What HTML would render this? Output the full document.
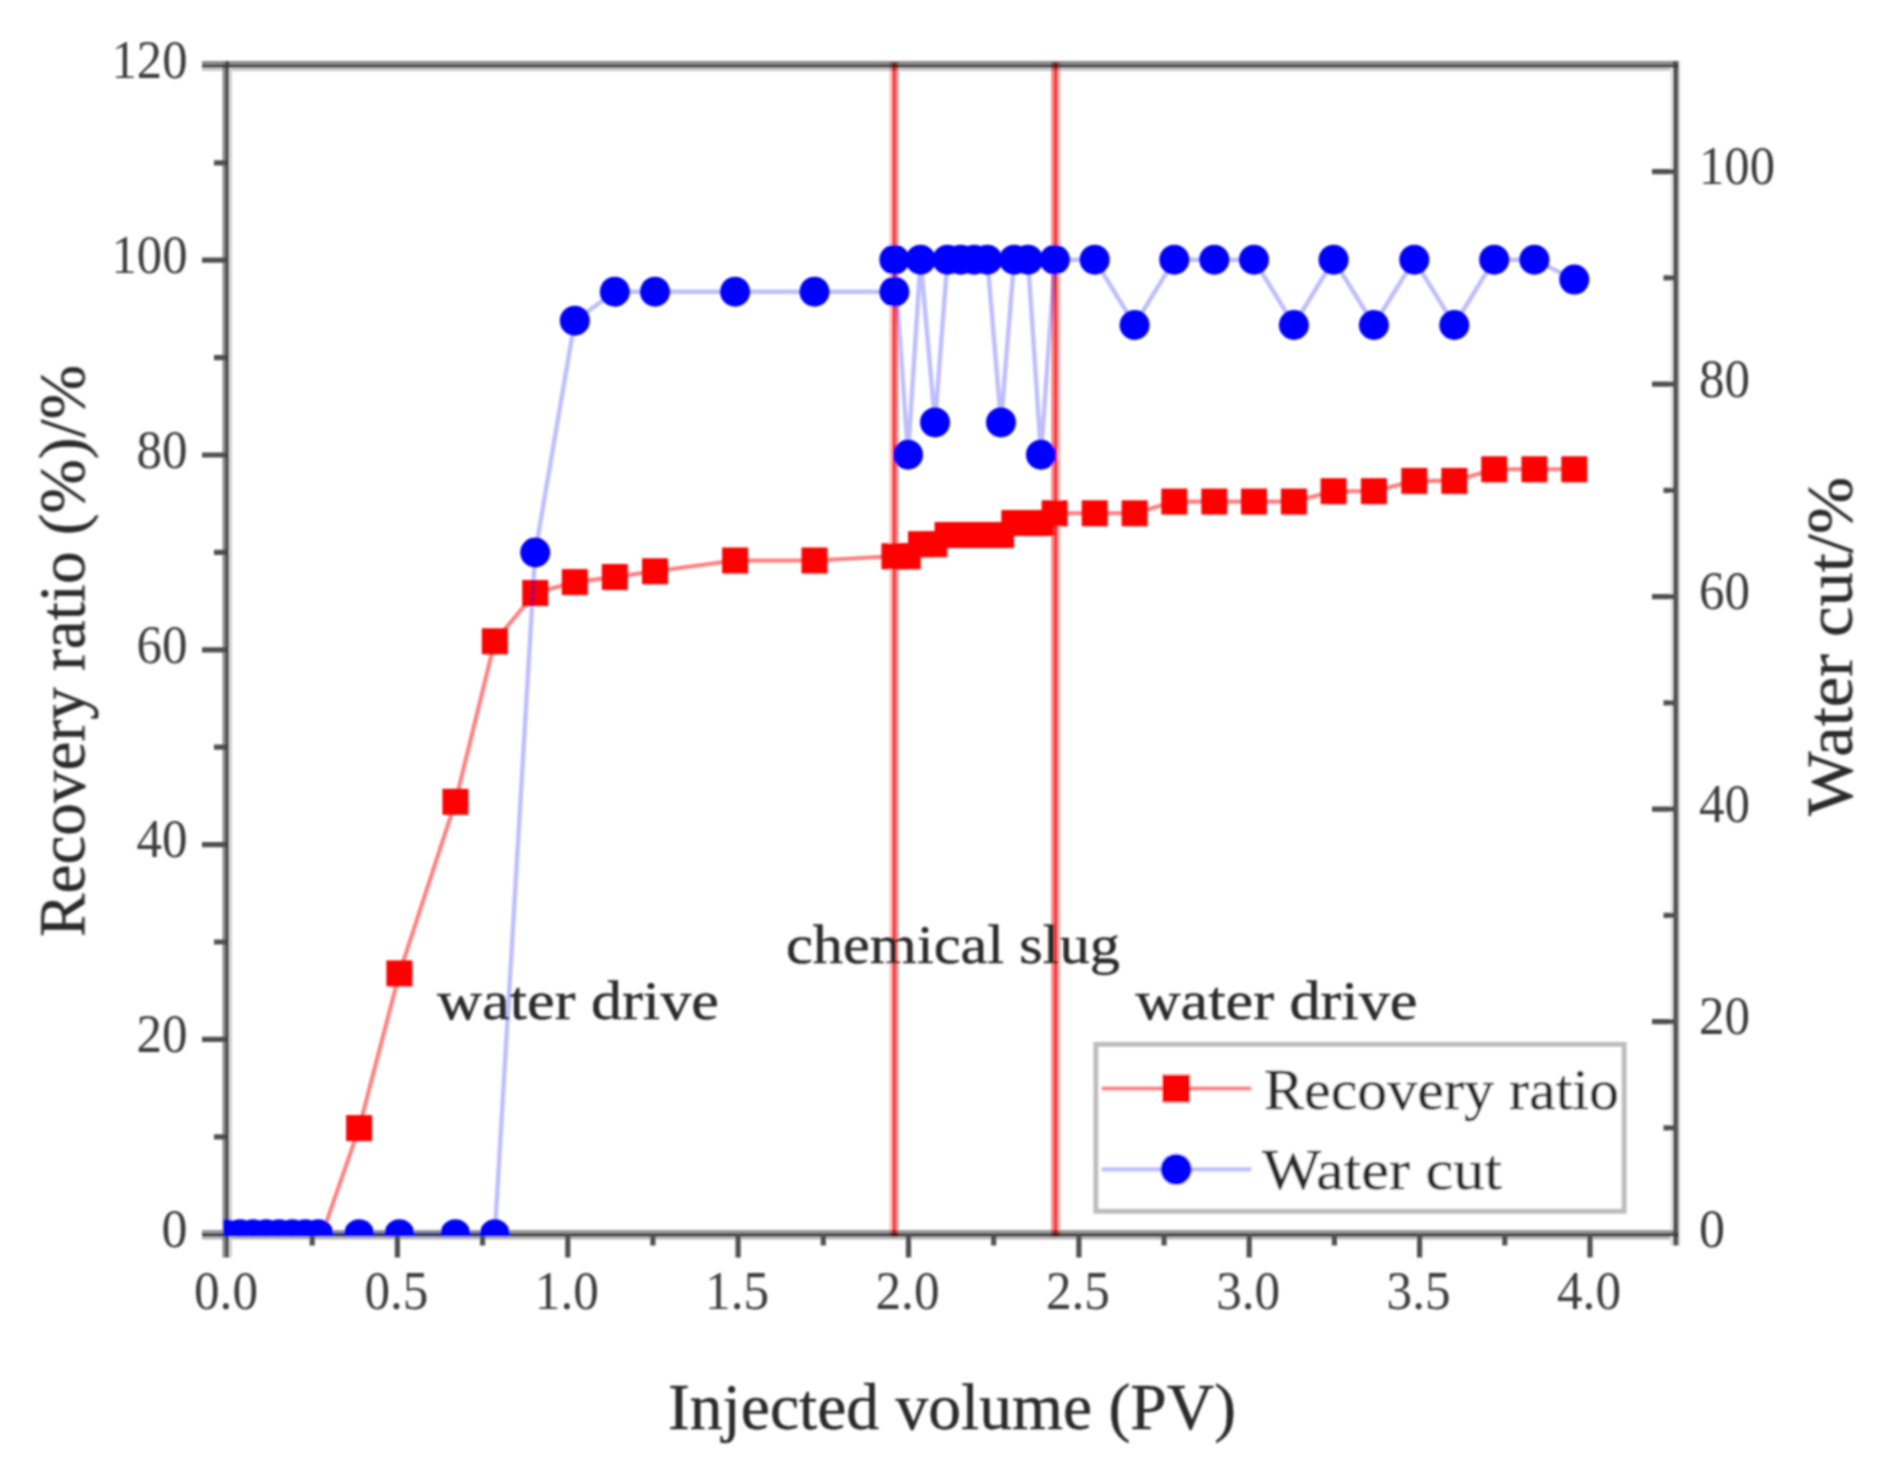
<!DOCTYPE html>
<html lang="en"><head><meta charset="utf-8"><title>Recovery ratio and water cut vs injected volume</title>
<style>html,body{margin:0;padding:0;background:#fff}svg{display:block}text{font-family:"Liberation Serif",serif;fill:#3c3c3c}text.h{fill:#2c2c2c;stroke:#2c2c2c;stroke-width:0.4px}</style>
</head><body>
<svg width="1891" height="1473" viewBox="0 0 1891 1473">
<defs><clipPath id="plot"><rect x="223.3" y="62.5" width="1455.3" height="1173.7"/></clipPath>
<filter id="soft" x="-2%" y="-2%" width="104%" height="104%"><feGaussianBlur stdDeviation="0.9"/></filter></defs>
<rect width="1891" height="1473" fill="#fff"/>
<g filter="url(#soft)">
<rect x="202.0" y="67.6" width="1477.0" height="3.4" fill="#c8c8c8"/>
<rect x="202.0" y="1236.4" width="1477.0" height="3.1" fill="#b4b4b4"/>
<rect x="228.8" y="61.0" width="3.1" height="1196.5" fill="#d0d0d0"/>
<rect x="1670.0" y="61.0" width="3.1" height="1184.5" fill="#e6e6e6"/>
<rect x="1679.0" y="61.0" width="3.0" height="1184.5" fill="#f4f4f4"/>
<rect x="202.0" y="61.0" width="1477.0" height="3.5" fill="#8c8c8c"/>
<rect x="202.0" y="1230.0" width="1477.0" height="3.3" fill="#989898"/>
<rect x="222.6" y="61.0" width="3.1" height="1196.5" fill="#808080"/>
<rect x="1676.0" y="61.0" width="3.0" height="1184.5" fill="#666666"/>
<rect x="202.0" y="64.5" width="1477.0" height="3.1" fill="#3a3a3a"/>
<rect x="202.0" y="1233.3" width="1477.0" height="3.1" fill="#2e2e2e"/>
<rect x="225.7" y="61.0" width="3.1" height="1196.5" fill="#3a3a3a"/>
<rect x="1673.1" y="61.0" width="2.9" height="1184.5" fill="#484848"/>
<rect x="889.4" y="62" width="2.8" height="1175" fill="#ffc0c0" style="mix-blend-mode:multiply"/>
<rect x="892.2" y="62" width="3.0" height="1175" fill="#ff1414" style="mix-blend-mode:multiply"/>
<rect x="895.2" y="62" width="2.9" height="1175" fill="#ff7474" style="mix-blend-mode:multiply"/>
<rect x="1051.4" y="62" width="3.2" height="1175" fill="#ff7474" style="mix-blend-mode:multiply"/>
<rect x="1054.6" y="62" width="3.0" height="1175" fill="#ff1010" style="mix-blend-mode:multiply"/>
<rect x="1057.6" y="62" width="2.9" height="1175" fill="#ffbcbc" style="mix-blend-mode:multiply"/>
<g stroke="#505050" stroke-width="5.2" fill="none" stroke-linecap="butt">
<path d="M202 1039.4 H226.1 M202 844.6 H226.1 M202 649.8 H226.1 M202 455.0 H226.1 M202 260.2 H226.1 M214 1136.8 H226.1 M214 942.0 H226.1 M214 747.2 H226.1 M214 552.4 H226.1 M214 357.6 H226.1 M214 162.8 H226.1 M397.4 1234.3 V1257.5 M567.8 1234.3 V1257.5 M738.1 1234.3 V1257.5 M908.5 1234.3 V1257.5 M1078.9 1234.3 V1257.5 M1249.2 1234.3 V1257.5 M1419.6 1234.3 V1257.5 M1590.0 1234.3 V1257.5 M312.2 1234.3 V1245.5 M482.6 1234.3 V1245.5 M652.9 1234.3 V1245.5 M823.3 1234.3 V1245.5 M993.7 1234.3 V1245.5 M1164.1 1234.3 V1245.5 M1334.4 1234.3 V1245.5 M1504.8 1234.3 V1245.5 M1652 1021.7 H1675.9 M1652 809.2 H1675.9 M1652 596.6 H1675.9 M1652 384.1 H1675.9 M1652 171.6 H1675.9 M1663.5 1127.9 H1675.9 M1663.5 915.4 H1675.9 M1663.5 702.9 H1675.9 M1663.5 490.4 H1675.9 M1663.5 277.9 H1675.9"/>
</g>
<g clip-path="url(#plot)">
<polyline fill="none" stroke="#ff0000" stroke-opacity="0.5" stroke-width="4.1" stroke-linejoin="round" points="227.0,1234.2 240.6,1234.2 254.2,1234.2 267.8,1234.2 281.4,1234.2 295.0,1234.2 308.6,1234.2 322.2,1234.2 359.1,1128.1 399.4,973.4 455.4,801.8 494.8,641.3 535.2,593.0 574.8,582.1 614.8,577.0 655.0,571.3 735.1,560.5 814.5,560.5 894.4,556.3 907.7,556.3 921.0,544.2 934.3,544.2 947.6,535.0 961.0,535.0 974.3,535.0 987.6,535.0 1001.0,535.0 1014.3,523.0 1027.6,523.0 1041.0,523.0 1054.6,513.3 1094.7,513.3 1134.6,513.3 1174.3,501.6 1214.3,501.6 1254.0,501.6 1293.9,501.6 1333.6,491.2 1373.9,491.2 1414.3,480.9 1454.3,480.9 1494.2,469.3 1534.4,469.3 1574.3,469.3"/>
<g fill="#ff0000">
<rect x="346.1" y="1115.1" width="26" height="26"/>
<rect x="386.4" y="960.4" width="26" height="26"/>
<rect x="442.4" y="788.8" width="26" height="26"/>
<rect x="481.8" y="628.3" width="26" height="26"/>
<rect x="522.2" y="580.0" width="26" height="26"/>
<rect x="561.8" y="569.1" width="26" height="26"/>
<rect x="601.8" y="564.0" width="26" height="26"/>
<rect x="642.0" y="558.3" width="26" height="26"/>
<rect x="722.1" y="547.5" width="26" height="26"/>
<rect x="801.5" y="547.5" width="26" height="26"/>
<rect x="881.4" y="543.3" width="26" height="26"/>
<rect x="894.7" y="543.3" width="26" height="26"/>
<rect x="908.0" y="531.2" width="26" height="26"/>
<rect x="921.3" y="531.2" width="26" height="26"/>
<rect x="934.6" y="522.0" width="26" height="26"/>
<rect x="948.0" y="522.0" width="26" height="26"/>
<rect x="961.3" y="522.0" width="26" height="26"/>
<rect x="974.6" y="522.0" width="26" height="26"/>
<rect x="988.0" y="522.0" width="26" height="26"/>
<rect x="1001.3" y="510.0" width="26" height="26"/>
<rect x="1014.6" y="510.0" width="26" height="26"/>
<rect x="1028.0" y="510.0" width="26" height="26"/>
<rect x="1041.6" y="500.3" width="26" height="26"/>
<rect x="1081.7" y="500.3" width="26" height="26"/>
<rect x="1121.6" y="500.3" width="26" height="26"/>
<rect x="1161.3" y="488.6" width="26" height="26"/>
<rect x="1201.3" y="488.6" width="26" height="26"/>
<rect x="1241.0" y="488.6" width="26" height="26"/>
<rect x="1280.9" y="488.6" width="26" height="26"/>
<rect x="1320.6" y="478.2" width="26" height="26"/>
<rect x="1360.9" y="478.2" width="26" height="26"/>
<rect x="1401.3" y="467.9" width="26" height="26"/>
<rect x="1441.3" y="467.9" width="26" height="26"/>
<rect x="1481.2" y="456.3" width="26" height="26"/>
<rect x="1521.4" y="456.3" width="26" height="26"/>
<rect x="1561.3" y="456.3" width="26" height="26"/>
</g>
<polyline fill="none" stroke="#0000ff" stroke-opacity="0.26" stroke-width="4.4" stroke-linejoin="round" points="227.0,1234.2 240.1,1234.2 253.1,1234.2 266.2,1234.2 279.2,1234.2 292.3,1234.2 305.4,1234.2 318.4,1234.2 359.1,1234.2 399.4,1234.2 455.4,1234.2 494.8,1234.2 535.2,552.5 574.8,320.7 614.8,291.7 655.0,291.7 735.1,291.7 814.5,291.7 894.4,291.7 894.4,259.7 908.0,454.7 920.6,259.7 935.0,422.4 947.5,259.7 960.8,259.7 974.1,259.7 987.3,259.7 1001.0,422.4 1014.2,259.7 1028.0,259.7 1041.0,454.7 1054.8,259.7 1094.7,259.7 1134.6,325.0 1174.3,259.7 1214.3,259.7 1254.0,259.7 1293.9,325.0 1333.6,259.7 1373.9,325.0 1414.3,259.7 1454.3,325.0 1494.2,259.7 1534.4,259.7 1574.3,279.6"/>
<g fill="#0000ff">
<circle cx="227.0" cy="1234.2" r="15.0"/>
<circle cx="240.1" cy="1234.2" r="15.0"/>
<circle cx="253.1" cy="1234.2" r="15.0"/>
<circle cx="266.2" cy="1234.2" r="15.0"/>
<circle cx="279.2" cy="1234.2" r="15.0"/>
<circle cx="292.3" cy="1234.2" r="15.0"/>
<circle cx="305.4" cy="1234.2" r="15.0"/>
<circle cx="318.4" cy="1234.2" r="15.0"/>
<circle cx="359.1" cy="1234.2" r="15.0"/>
<circle cx="399.4" cy="1234.2" r="15.0"/>
<circle cx="455.4" cy="1234.2" r="15.0"/>
<circle cx="494.8" cy="1234.2" r="15.0"/>
<circle cx="535.2" cy="552.5" r="15.0"/>
<circle cx="574.8" cy="320.7" r="15.0"/>
<circle cx="614.8" cy="291.7" r="15.0"/>
<circle cx="655.0" cy="291.7" r="15.0"/>
<circle cx="735.1" cy="291.7" r="15.0"/>
<circle cx="814.5" cy="291.7" r="15.0"/>
<circle cx="894.4" cy="291.7" r="15.0"/>
<circle cx="894.4" cy="259.7" r="15.0"/>
<circle cx="908.0" cy="454.7" r="15.0"/>
<circle cx="920.6" cy="259.7" r="15.0"/>
<circle cx="935.0" cy="422.4" r="15.0"/>
<circle cx="947.5" cy="259.7" r="15.0"/>
<circle cx="960.8" cy="259.7" r="15.0"/>
<circle cx="974.1" cy="259.7" r="15.0"/>
<circle cx="987.3" cy="259.7" r="15.0"/>
<circle cx="1001.0" cy="422.4" r="15.0"/>
<circle cx="1014.2" cy="259.7" r="15.0"/>
<circle cx="1028.0" cy="259.7" r="15.0"/>
<circle cx="1041.0" cy="454.7" r="15.0"/>
<circle cx="1054.8" cy="259.7" r="15.0"/>
<circle cx="1094.7" cy="259.7" r="15.0"/>
<circle cx="1134.6" cy="325.0" r="15.0"/>
<circle cx="1174.3" cy="259.7" r="15.0"/>
<circle cx="1214.3" cy="259.7" r="15.0"/>
<circle cx="1254.0" cy="259.7" r="15.0"/>
<circle cx="1293.9" cy="325.0" r="15.0"/>
<circle cx="1333.6" cy="259.7" r="15.0"/>
<circle cx="1373.9" cy="325.0" r="15.0"/>
<circle cx="1414.3" cy="259.7" r="15.0"/>
<circle cx="1454.3" cy="325.0" r="15.0"/>
<circle cx="1494.2" cy="259.7" r="15.0"/>
<circle cx="1534.4" cy="259.7" r="15.0"/>
<circle cx="1574.3" cy="279.6" r="15.0"/>
</g>
</g>
<rect x="1095.9" y="1044.4" width="528.2" height="166.9" fill="#fff" stroke="#bdbdbd" stroke-width="5"/>
<path d="M1101.6 1088.5H1251.3" stroke="#ff0000" stroke-opacity="0.5" stroke-width="4.1"/>
<rect x="1162.1" y="1074.5" width="28" height="28" fill="#ff0000"/>
<path d="M1101.6 1169.4H1251.3" stroke="#0000ff" stroke-opacity="0.26" stroke-width="4.4"/>
<circle cx="1176.1" cy="1169.4" r="15.6" fill="#0000ff"/>
<text id="t1" x="161.5" y="1246.9" font-size="55.0" textLength="26.0" lengthAdjust="spacingAndGlyphs">0</text>
<text id="t2" x="136.5" y="1052.1" font-size="55.0" textLength="51.0" lengthAdjust="spacingAndGlyphs">20</text>
<text id="t3" x="136.5" y="857.3" font-size="55.0" textLength="51.0" lengthAdjust="spacingAndGlyphs">40</text>
<text id="t4" x="136.5" y="662.5" font-size="55.0" textLength="51.0" lengthAdjust="spacingAndGlyphs">60</text>
<text id="t5" x="136.5" y="467.7" font-size="55.0" textLength="51.0" lengthAdjust="spacingAndGlyphs">80</text>
<text id="t6" x="111.5" y="272.9" font-size="55.0" textLength="76.0" lengthAdjust="spacingAndGlyphs">100</text>
<text id="t7" x="111.5" y="78.1" font-size="55.0" textLength="76.0" lengthAdjust="spacingAndGlyphs">120</text>
<text id="t8" x="1699.0" y="1246.8" font-size="55.0" textLength="26.0" lengthAdjust="spacingAndGlyphs">0</text>
<text id="t9" x="1699.0" y="1034.3" font-size="55.0" textLength="51.0" lengthAdjust="spacingAndGlyphs">20</text>
<text id="t10" x="1699.0" y="821.8" font-size="55.0" textLength="51.0" lengthAdjust="spacingAndGlyphs">40</text>
<text id="t11" x="1699.0" y="609.2" font-size="55.0" textLength="51.0" lengthAdjust="spacingAndGlyphs">60</text>
<text id="t12" x="1699.0" y="396.7" font-size="55.0" textLength="51.0" lengthAdjust="spacingAndGlyphs">80</text>
<text id="t13" x="1699.0" y="184.2" font-size="55.0" textLength="76.0" lengthAdjust="spacingAndGlyphs">100</text>
<text id="t14" x="194.0" y="1308.7" font-size="55.0" textLength="64.0" lengthAdjust="spacingAndGlyphs">0.0</text>
<text id="t15" x="364.4" y="1308.7" font-size="55.0" textLength="64.0" lengthAdjust="spacingAndGlyphs">0.5</text>
<text id="t16" x="534.8" y="1308.7" font-size="55.0" textLength="64.0" lengthAdjust="spacingAndGlyphs">1.0</text>
<text id="t17" x="705.1" y="1308.7" font-size="55.0" textLength="64.0" lengthAdjust="spacingAndGlyphs">1.5</text>
<text id="t18" x="875.5" y="1308.7" font-size="55.0" textLength="64.0" lengthAdjust="spacingAndGlyphs">2.0</text>
<text id="t19" x="1045.9" y="1308.7" font-size="55.0" textLength="64.0" lengthAdjust="spacingAndGlyphs">2.5</text>
<text id="t20" x="1216.2" y="1308.7" font-size="55.0" textLength="64.0" lengthAdjust="spacingAndGlyphs">3.0</text>
<text id="t21" x="1386.6" y="1308.7" font-size="55.0" textLength="64.0" lengthAdjust="spacingAndGlyphs">3.5</text>
<text id="t22" x="1557.0" y="1308.7" font-size="55.0" textLength="64.0" lengthAdjust="spacingAndGlyphs">4.0</text>
<text id="t23" x="437.0" y="1018.5" font-size="55.0" textLength="282.0" lengthAdjust="spacingAndGlyphs" class="h">water drive</text>
<text id="t24" x="786.0" y="963.0" font-size="55.0" textLength="334.0" lengthAdjust="spacingAndGlyphs" class="h">chemical slug</text>
<text id="t25" x="1135.5" y="1018.7" font-size="55.0" textLength="282.0" lengthAdjust="spacingAndGlyphs" class="h">water drive</text>
<text id="t26" x="1264.0" y="1109.3" font-size="57.0" textLength="355.0" lengthAdjust="spacingAndGlyphs" class="h">Recovery ratio</text>
<text id="t27" x="1262.0" y="1189.2" font-size="57.0" textLength="240.0" lengthAdjust="spacingAndGlyphs" class="h">Water cut</text>
<text id="t28" x="668.0" y="1429.0" font-size="66.0" textLength="568.0" lengthAdjust="spacingAndGlyphs" class="h">Injected volume (PV)</text>
<text id="t29" x="0" y="0" transform="translate(84.3 937) rotate(-90)" font-size="66.0" textLength="572.0" lengthAdjust="spacingAndGlyphs" class="h">Recovery ratio (%)/%</text>
<text id="t30" x="0" y="0" transform="translate(1851.8 816) rotate(-90)" font-size="66.0" textLength="339.0" lengthAdjust="spacingAndGlyphs" class="h">Water cut/%</text>
</g>
</svg></body></html>
